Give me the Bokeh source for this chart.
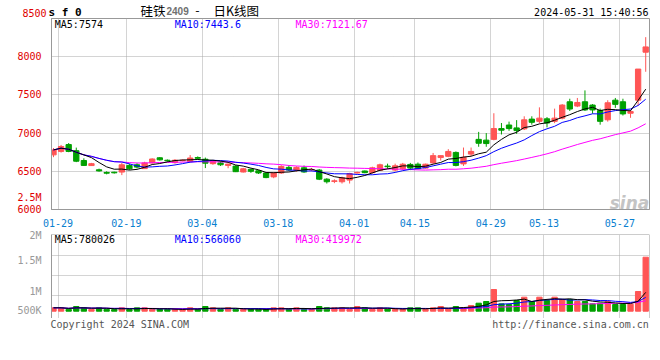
import pandas as pd
from bokeh.plotting import figure
from bokeh.layouts import column
from bokeh.models import ColumnDataSource, Range1d, FixedTicker, Label, Span
from bokeh.embed import file_html
from bokeh.resources import INLINE

# ---------------- data ----------------
tick_idx = [0, 9, 19, 29, 39, 47, 57, 64, 74]
tick_labels = ["01-29", "02-19", "03-04", "03-18", "04-01", "04-15", "04-29", "05-13", "05-27"]

opens = [6715, 6760, 6850, 6770, 6641, 6575, 6520, 6485, 6488, 6490,
         6577, 6585, 6535, 6610, 6677, 6645, 6613, 6638, 6628, 6680,
         6658, 6600, 6610, 6577, 6568, 6491, 6526, 6507, 6478, 6427,
         6478, 6551, 6517, 6546, 6518, 6516, 6397, 6368, 6363, 6385,
         6478, 6504, 6482, 6513, 6568, 6516, 6533, 6590, 6593, 6542,
         6610, 6680, 6696, 6747, 6597, 6725, 6918, 6908, 6918, 7059,
         7106, 7068, 7055, 7183, 7154, 7187, 7154, 7196, 7410, 7354,
         7410, 7367, 7295, 7174, 7431, 7410, 7260, 7431, 8059]
highs = [6805, 6845, 6870, 6810, 6670, 6610, 6535, 6500, 6495, 6610,
         6600, 6605, 6625, 6670, 6685, 6655, 6660, 6655, 6713, 6695,
         6680, 6645, 6630, 6600, 6580, 6545, 6535, 6515, 6485, 6490,
         6580, 6580, 6565, 6575, 6545, 6530, 6410, 6395, 6430, 6480,
         6495, 6510, 6560, 6600, 6600, 6600, 6610, 6610, 6615, 6600,
         6740, 6705, 6790, 6760, 6811, 6811, 7016, 7000, 7260, 7132,
         7150, 7170, 7220, 7220, 7337, 7210, 7320, 7380, 7450, 7460,
         7559, 7380, 7320, 7430, 7460, 7450, 7300, 7838, 8256]
lows = [6685, 6745, 6750, 6620, 6570, 6570, 6495, 6460, 6470, 6450,
        6520, 6540, 6530, 6600, 6640, 6625, 6600, 6630, 6620, 6655,
        6542, 6585, 6570, 6540, 6490, 6485, 6480, 6465, 6410, 6410,
        6465, 6505, 6495, 6480, 6500, 6385, 6340, 6345, 6340, 6340,
        6470, 6475, 6470, 6505, 6530, 6500, 6515, 6515, 6525, 6535,
        6600, 6640, 6685, 6565, 6570, 6700, 6821, 6821, 6905, 6982,
        7030, 6990, 7040, 7110, 7130, 7075, 7130, 7180, 7290, 7340,
        7290, 7255, 7110, 7150, 7330, 7230, 7200, 7359, 7803]
closes = [6780, 6825, 6760, 6632, 6577, 6600, 6505, 6475, 6480, 6585,
          6533, 6555, 6610, 6661, 6650, 6638, 6645, 6645, 6674, 6670,
          6606, 6632, 6585, 6594, 6495, 6533, 6500, 6478, 6418, 6478,
          6564, 6517, 6551, 6491, 6523, 6397, 6363, 6375, 6414, 6470,
          6485, 6482, 6546, 6585, 6560, 6572, 6593, 6542, 6533, 6593,
          6705, 6705, 6760, 6577, 6683, 6760, 6867, 6863, 7059, 7038,
          7059, 7033, 7174, 7141, 7196, 7132, 7196, 7367, 7315, 7401,
          7303, 7303, 7154, 7397, 7376, 7251, 7282, 7838, 8128]
volumes = [140000, 140000, 75000, 195000, 140000, 75000, 140000, 75000, 65000, 140000,
           65000, 140000, 140000, 75000, 75000, 75000, 75000, 75000, 140000, 75000,
           195000, 140000, 75000, 140000, 75000, 75000, 75000, 80000, 75000, 140000,
           140000, 75000, 140000, 75000, 75000, 195000, 140000, 140000, 140000, 75000,
           195000, 140000, 75000, 140000, 90000, 75000, 75000, 140000, 140000, 75000,
           140000, 195000, 90000, 195000, 140000, 237000, 332000, 402000, 900000, 304000,
           277000, 443000, 581000, 402000, 581000, 443000, 581000, 484000, 484000, 402000,
           402000, 304000, 332000, 402000, 277000, 277000, 290000, 817000, 2240000]

price_ticks = [6000, 6500, 7000, 7500, 8000]
vol_tick_labels = ["500K", "1M", "1.5M", "2M"]

# ---------------- styles ----------------
RED = "#FF5555"
GREEN = "#00A000"
GRID = "#A8A8A8"
BORDER = "#999999"
AXRED = "#E00000"
MONO = "DejaVu Sans Mono"
CJK = "Noto Sans CJK SC"
W = 660

n = len(closes)
xs = list(range(n))
colors = [RED if c >= o else GREEN for o, c in zip(opens, closes)]
cs = pd.Series(closes, dtype=float)
vs = pd.Series(volumes, dtype=float)

src = ColumnDataSource(dict(
    x=xs, open=opens, high=highs, low=lows, close=closes,
    top=[max(o, c) for o, c in zip(opens, closes)],
    bottom=[min(o, c) for o, c in zip(opens, closes)],
    color=colors, vol=volumes,
    ma5=cs.rolling(5, min_periods=1).mean(),
    ma10=cs.rolling(10, min_periods=1).mean(),
    ma30=cs.rolling(30, min_periods=1).mean(),
    vma5=vs.rolling(5, min_periods=1).mean(),
    vma10=vs.rolling(10, min_periods=1).mean(),
    vma30=vs.rolling(30, min_periods=1).mean(),
))

# pixel helpers (page pixel -> data units of each panel)
def px_x(px):
    return (px - 52.7) / 7.6

def py_price(py):
    return 6000 + (213.0 - py) / 0.078

VOL_PER_PX = 41490.0

def py_vol(py):
    return (310.7 - py) * VOL_PER_PX

def add_label(fig, x, y, text, color="#000000", size="10px", font=MONO,
              align="left", baseline="middle", style="normal"):
    fig.add_layout(Label(x=x, y=y, text=text, text_color=color, text_font_size=size,
                         text_font=font, text_align=align, text_baseline=baseline,
                         text_font_style=style))

def bare(height, y0, y1):
    f = figure(width=W, height=height, x_range=Range1d(0, W), y_range=Range1d(y0, y1),
               output_backend="svg", toolbar_location=None,
               x_axis_location=None, y_axis_location=None,
               min_border=0, min_border_left=0, min_border_right=0,
               min_border_top=0, min_border_bottom=0)
    try:
        f.frame_align = False
    except Exception:
        pass
    f.outline_line_color = None
    f.xgrid.visible = False
    f.ygrid.visible = False
    f.background_fill_color = "white"
    f.border_fill_color = "white"
    return f

x_range = Range1d(-0.263, 78.5)
grid_x = [i + 0.6 for i in tick_idx]

# ---------------- header strip (page y 0..18) ----------------
h = bare(18, 18, 0)
add_label(h, 48, 11.5, "s f 0", size="11px", style="bold")
add_label(h, 140, 9.5, "硅铁", size="12.5px", font=CJK)
add_label(h, 166, 10.5, "2409", color="#707070", size="10px", font="Liberation Sans", style="bold")
add_label(h, 197, 9.5, "-", size="12.5px", font=CJK, align="center")
add_label(h, 213, 9.5, "日K线图", size="12.5px", font=CJK)
add_label(h, 648, 12.2, "2024-05-31 15:40:56", align="right")
add_label(h, 46, 12.4, "8500", color=AXRED, align="right")

# ---------------- price panel (page y 18..229) ----------------
p = figure(width=W, height=211, x_range=x_range, y_range=Range1d(6000, 8500),
           output_backend="svg", toolbar_location=None,
           min_border_left=51, min_border_right=11, min_border_top=0, min_border_bottom=16)
p.background_fill_color = "white"
p.border_fill_color = "white"
p.outline_line_color = BORDER

p.yaxis.ticker = FixedTicker(ticks=price_ticks + [py_price(200.5)])
p.yaxis.major_label_overrides = {py_price(200.5): "2.5M"}
p.yaxis.major_label_text_color = AXRED
p.yaxis.major_label_text_font = MONO
p.yaxis.major_label_text_font_size = "10px"
p.yaxis.major_tick_line_color = None
p.yaxis.minor_tick_line_color = None
p.yaxis.axis_line_color = BORDER
p.yaxis.major_label_standoff = 4

p.xaxis.ticker = FixedTicker(ticks=grid_x)
p.xaxis.major_label_overrides = {g: lab for g, lab in zip(grid_x, tick_labels)}
p.xaxis.major_label_text_color = "#0A80D0"
p.xaxis.major_label_text_font = MONO
p.xaxis.major_label_text_font_size = "10px"
p.xaxis.major_tick_line_color = None
p.xaxis.minor_tick_line_color = None
p.xaxis.axis_line_color = BORDER
p.xaxis.major_label_standoff = 3

p.xgrid.ticker = FixedTicker(ticks=grid_x)
p.ygrid.ticker = FixedTicker(ticks=[6500, 7000, 7500, 8000])
for g in (p.xgrid, p.ygrid):
    g.grid_line_color = GRID
    g.grid_line_dash = "1 1"

p.segment(x0="x", y0="low", x1="x", y1="high", line_color="color", line_width=1, source=src)
p.vbar(x="x", width=0.7, top="top", bottom="bottom", fill_color="color",
       line_color="color", line_width=1, source=src)
p.line("x", "ma30", line_color="#FF00FF", line_width=1, source=src)
p.line("x", "ma10", line_color="#0000FF", line_width=1, source=src)
p.line("x", "ma5", line_color="#000000", line_width=1, source=src)

add_label(p, px_x(54), py_price(24), "MA5:7574", color="#000000")
add_label(p, px_x(174), py_price(24), "MA10:7443.6", color="#0000FF")
add_label(p, px_x(295), py_price(24), "MA30:7121.67", color="#FF00FF")
add_label(p, px_x(649), py_price(206), "sina", color="#C4C4C4", size="17px",
          font="DejaVu Sans", align="right", baseline="alphabetic", style="bold italic")

# ---------------- volume panel (page y 229..318) ----------------
v_lo = py_vol(318.0)
v_hi = py_vol(234.0)
v = figure(width=W, height=89, x_range=x_range, y_range=Range1d(v_lo, v_hi),
           output_backend="svg", toolbar_location=None, x_axis_location=None,
           min_border_left=51, min_border_right=11, min_border_top=5, min_border_bottom=0)
v.background_fill_color = "white"
v.border_fill_color = "white"
v.outline_line_color = None

vol_ticks = [round(py_vol(310.3)), round(py_vol(290.7)), round(py_vol(260.0)), round(v_hi) - 1]
v.yaxis.ticker = FixedTicker(ticks=vol_ticks)
v.yaxis.major_label_overrides = {t: lab for t, lab in zip(vol_ticks, vol_tick_labels)}
v.yaxis.major_label_text_color = "#999999"
v.yaxis.major_label_text_font = MONO
v.yaxis.major_label_text_font_size = "10px"
v.yaxis.major_tick_line_color = None
v.yaxis.minor_tick_line_color = None
v.yaxis.axis_line_color = BORDER
v.yaxis.major_label_standoff = 4

v.xgrid.ticker = FixedTicker(ticks=grid_x)
v.ygrid.ticker = FixedTicker(ticks=[py_vol(295), py_vol(275), py_vol(255)])
for g in (v.xgrid, v.ygrid):
    g.grid_line_color = GRID
    g.grid_line_dash = "1 1"

v.add_layout(Span(location=v_hi, dimension="width", line_color=BORDER, line_width=1))
v.add_layout(Span(location=78.5, dimension="height", line_color=BORDER, line_width=1))

v.vbar(x="x", width=0.7, top="vol", bottom=0, fill_color="color",
       line_color="color", line_width=1, source=src)
v.line("x", "vma30", line_color="#FF00FF", line_width=1, source=src)
v.line("x", "vma10", line_color="#0000FF", line_width=1, source=src)
v.line("x", "vma5", line_color="#000000", line_width=1, source=src)

add_label(v, px_x(54), py_vol(238.5), "MA5:780026", color="#000000")
add_label(v, px_x(174), py_vol(238.5), "MA10:566060", color="#0000FF")
add_label(v, px_x(295), py_vol(238.5), "MA30:419972", color="#FF00FF")

# ---------------- footer strip (page y 318..332) ----------------
f = bare(14, 332, 318)
add_label(f, 50, 323.5, "Copyright 2024 SINA.COM", color="#555555")
add_label(f, 648.3, 323.5, "http://finance.sina.com.cn", color="#555555", align="right")

layout = column(h, p, v, f, spacing=0)
open("out.html", "w").write(file_html(layout, INLINE))
